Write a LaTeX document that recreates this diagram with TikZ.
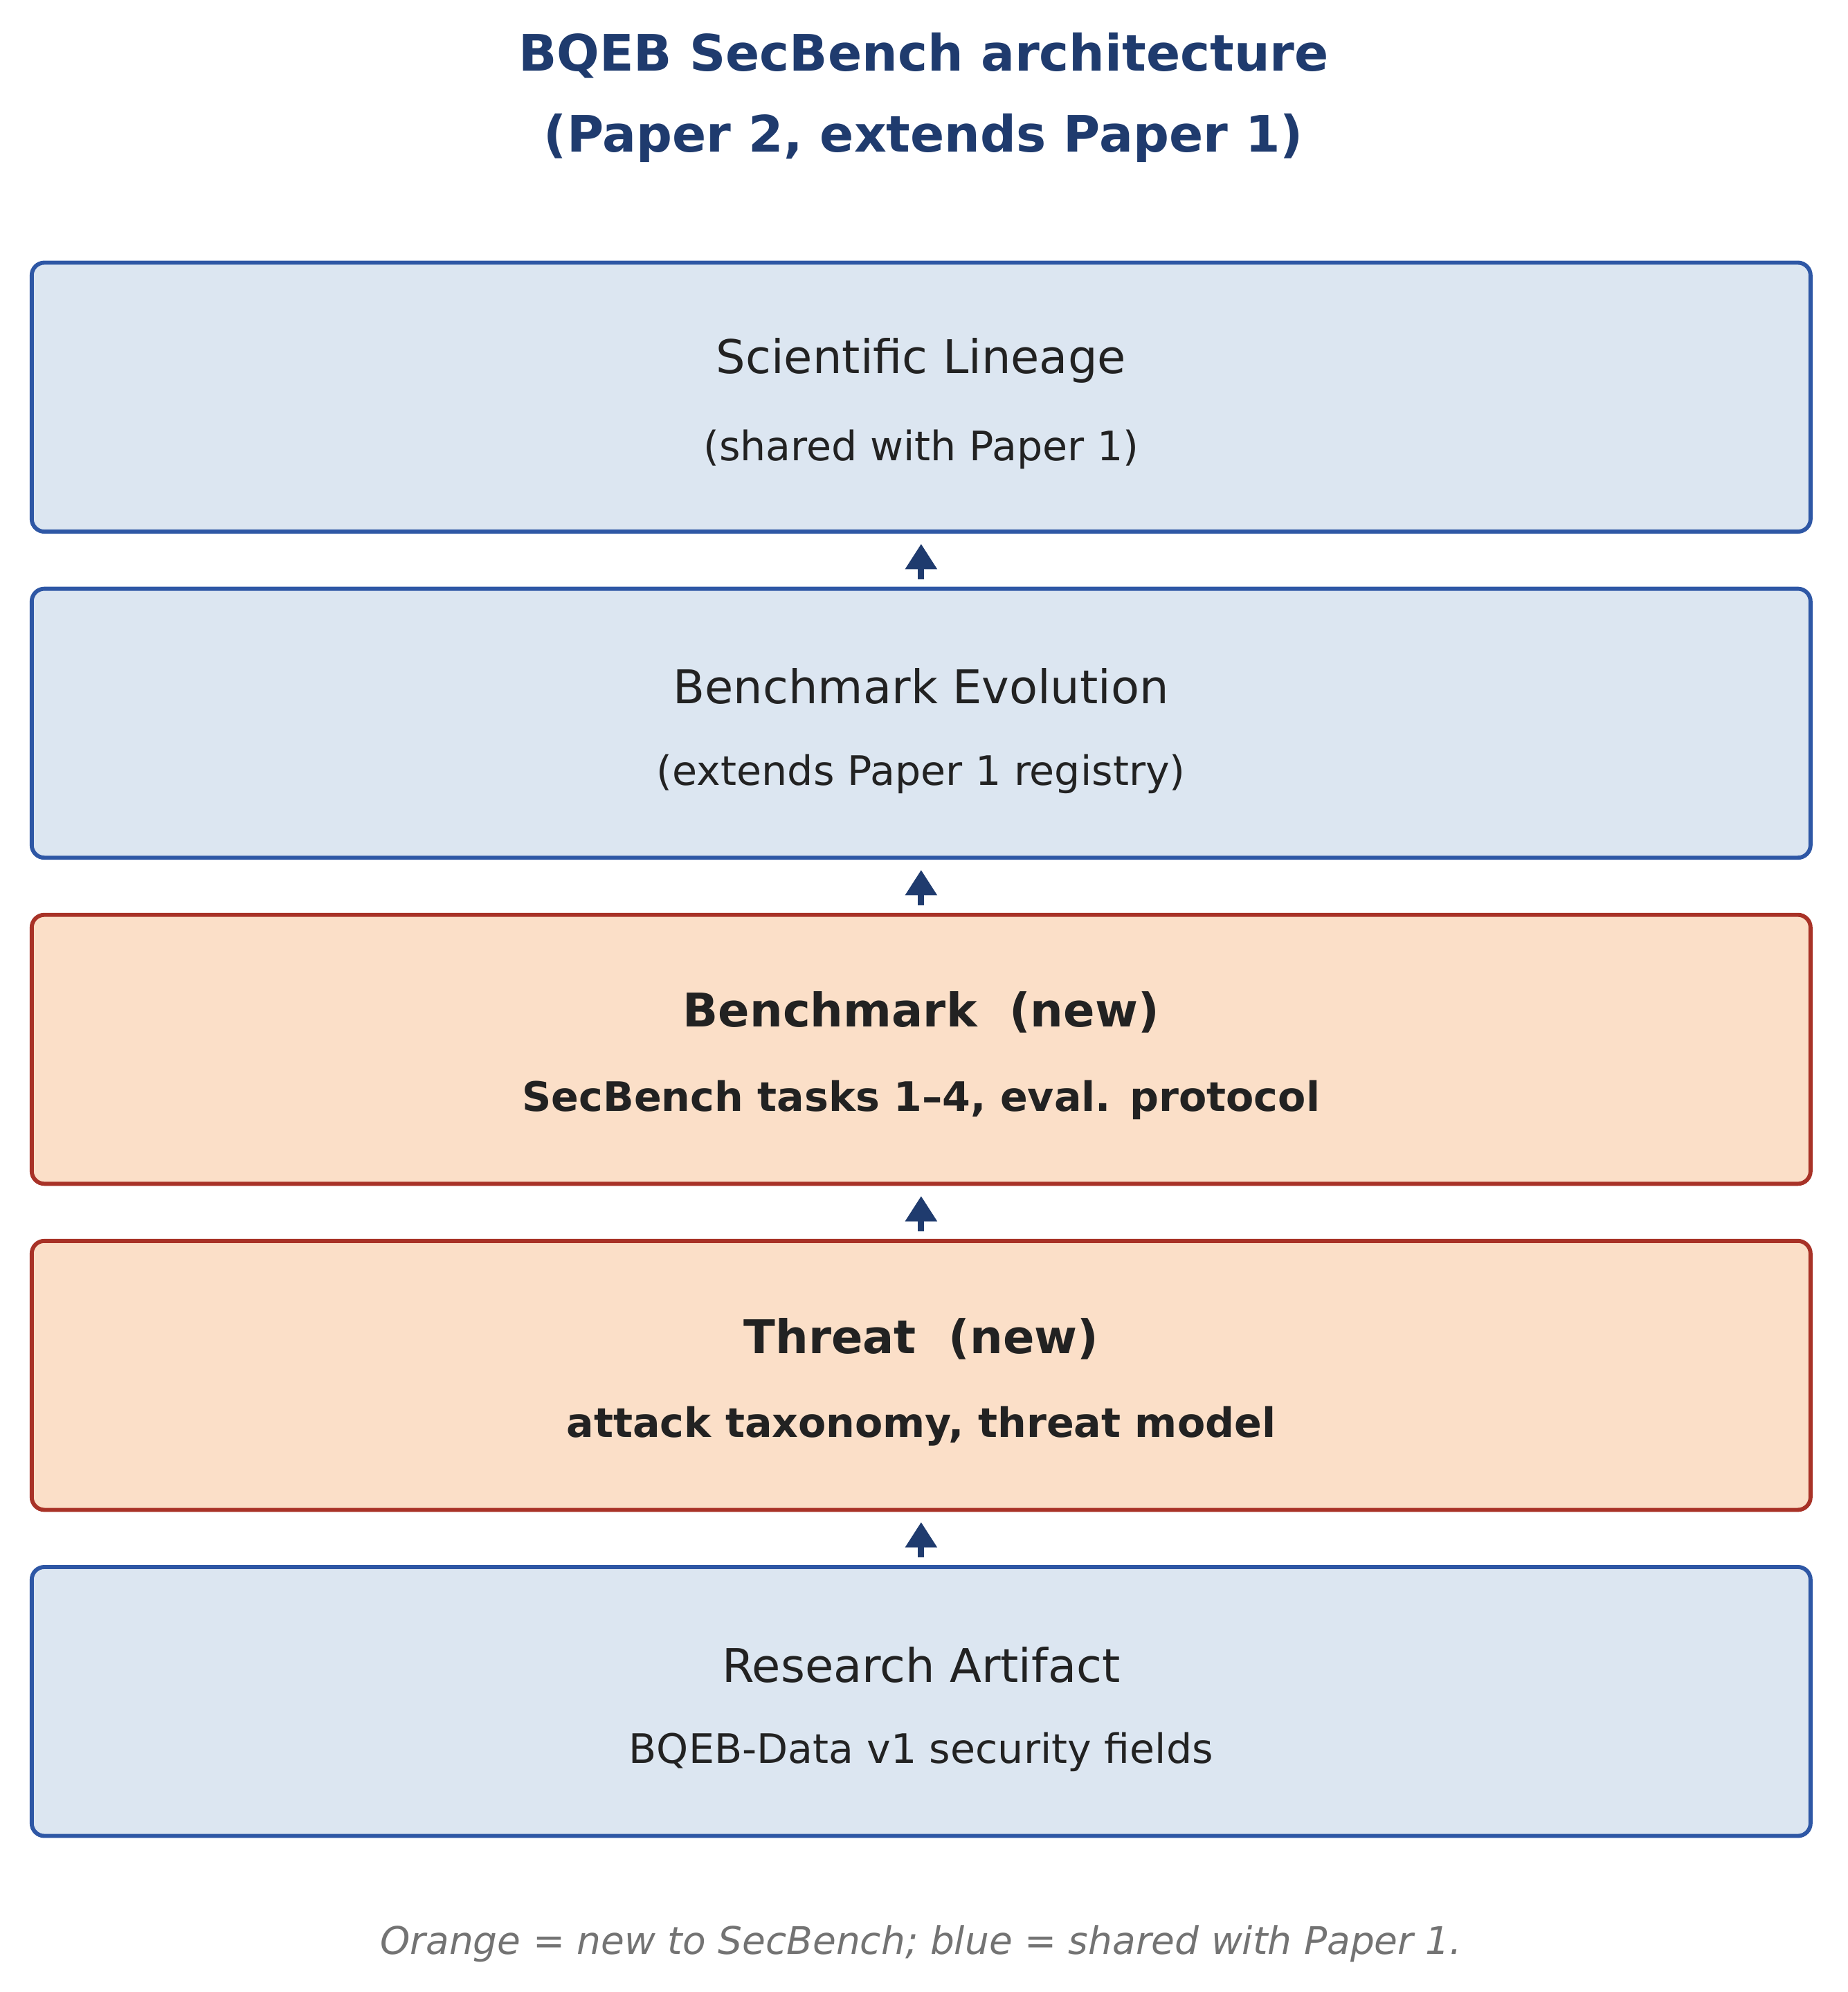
\documentclass[tikz,border=0pt]{standalone}
\usepackage{fontspec}
\setmainfont{DejaVu Sans}
\usetikzlibrary{arrows.meta}
\definecolor{bfill}{HTML}{DCE6F1}
\definecolor{bline}{HTML}{2E57A5}
\definecolor{ofill}{HTML}{FBDFC8}
\definecolor{oline}{HTML}{A83227}
\definecolor{navy}{HTML}{1F3B6E}
\definecolor{txt}{HTML}{222222}
\begin{document}
\begin{tikzpicture}[x=0.5pt,y=-0.5pt,
  box/.style={draw, line width=1.6pt, rounded corners=5pt, minimum width=701pt, minimum height=106pt, inner sep=0pt},
  blue/.style={box, fill=bfill, draw=bline},
  orange/.style={box, fill=ofill, draw=oline},
  ttl/.style={font=\fontsize{18.3}{21}\selectfont, text=txt},
  sub/.style={font=\fontsize{16}{19}\selectfont, text=txt},
  arr/.style={-{Triangle[length=10pt,width=12pt]}, line width=2.4pt, draw=navy}]
\useasboundingbox (0,0) rectangle (1456,1570);
\node[font=\bfseries\fontsize{19.8}{32}\selectfont, text=navy, align=center] (title) at (728,77) {BQEB SecBench architecture\\(Paper 2, extends Paper 1)};
\node[blue] (b1) at (726,313) {};
\node[blue] (b2) at (726,570) {};
\node[orange] (b3) at (726,827) {};
\node[orange] (b4) at (726,1084) {};
\node[blue] (b5) at (726,1341) {};
\node[ttl] (t1) at (726,284) {Scientific Lineage};
\node[sub] (s1) at (726,354) {(shared with Paper 1)};
\node[ttl] (t2) at (726,541) {Benchmark Evolution};
\node[sub] (s2) at (726,610) {(extends Paper 1 registry)};
\node[ttl, font=\bfseries\fontsize{18.3}{21}\selectfont] (t3) at (726,798) {Benchmark\ \ (new)};
\node[sub, font=\bfseries\fontsize{16}{19}\selectfont] (s3) at (726,867) {SecBench tasks 1–4, eval. protocol};
\node[ttl, font=\bfseries\fontsize{18.3}{21}\selectfont] (t4) at (726,1055) {Threat\ \ (new)};
\node[sub, font=\bfseries\fontsize{16}{19}\selectfont] (s4) at (726,1124) {attack taxonomy, threat model};
\node[ttl] (t5) at (726,1312) {Research Artifact};
\node[sub] (s5) at (726,1381) {BQEB-Data v1 security fields};
\draw[arr] ([yshift=3pt]b2.north) -- ([yshift=-4pt]b1.south);
\draw[arr] ([yshift=3pt]b3.north) -- ([yshift=-4pt]b2.south);
\draw[arr] ([yshift=3pt]b4.north) -- ([yshift=-4pt]b3.south);
\draw[arr] ([yshift=3pt]b5.north) -- ([yshift=-4pt]b4.south);
\node[font=\itshape\fontsize{15}{18}\selectfont, text=black!55] (foot) at (726,1532) {Orange = new to SecBench; blue = shared with Paper 1.};
\end{tikzpicture}
\end{document}
